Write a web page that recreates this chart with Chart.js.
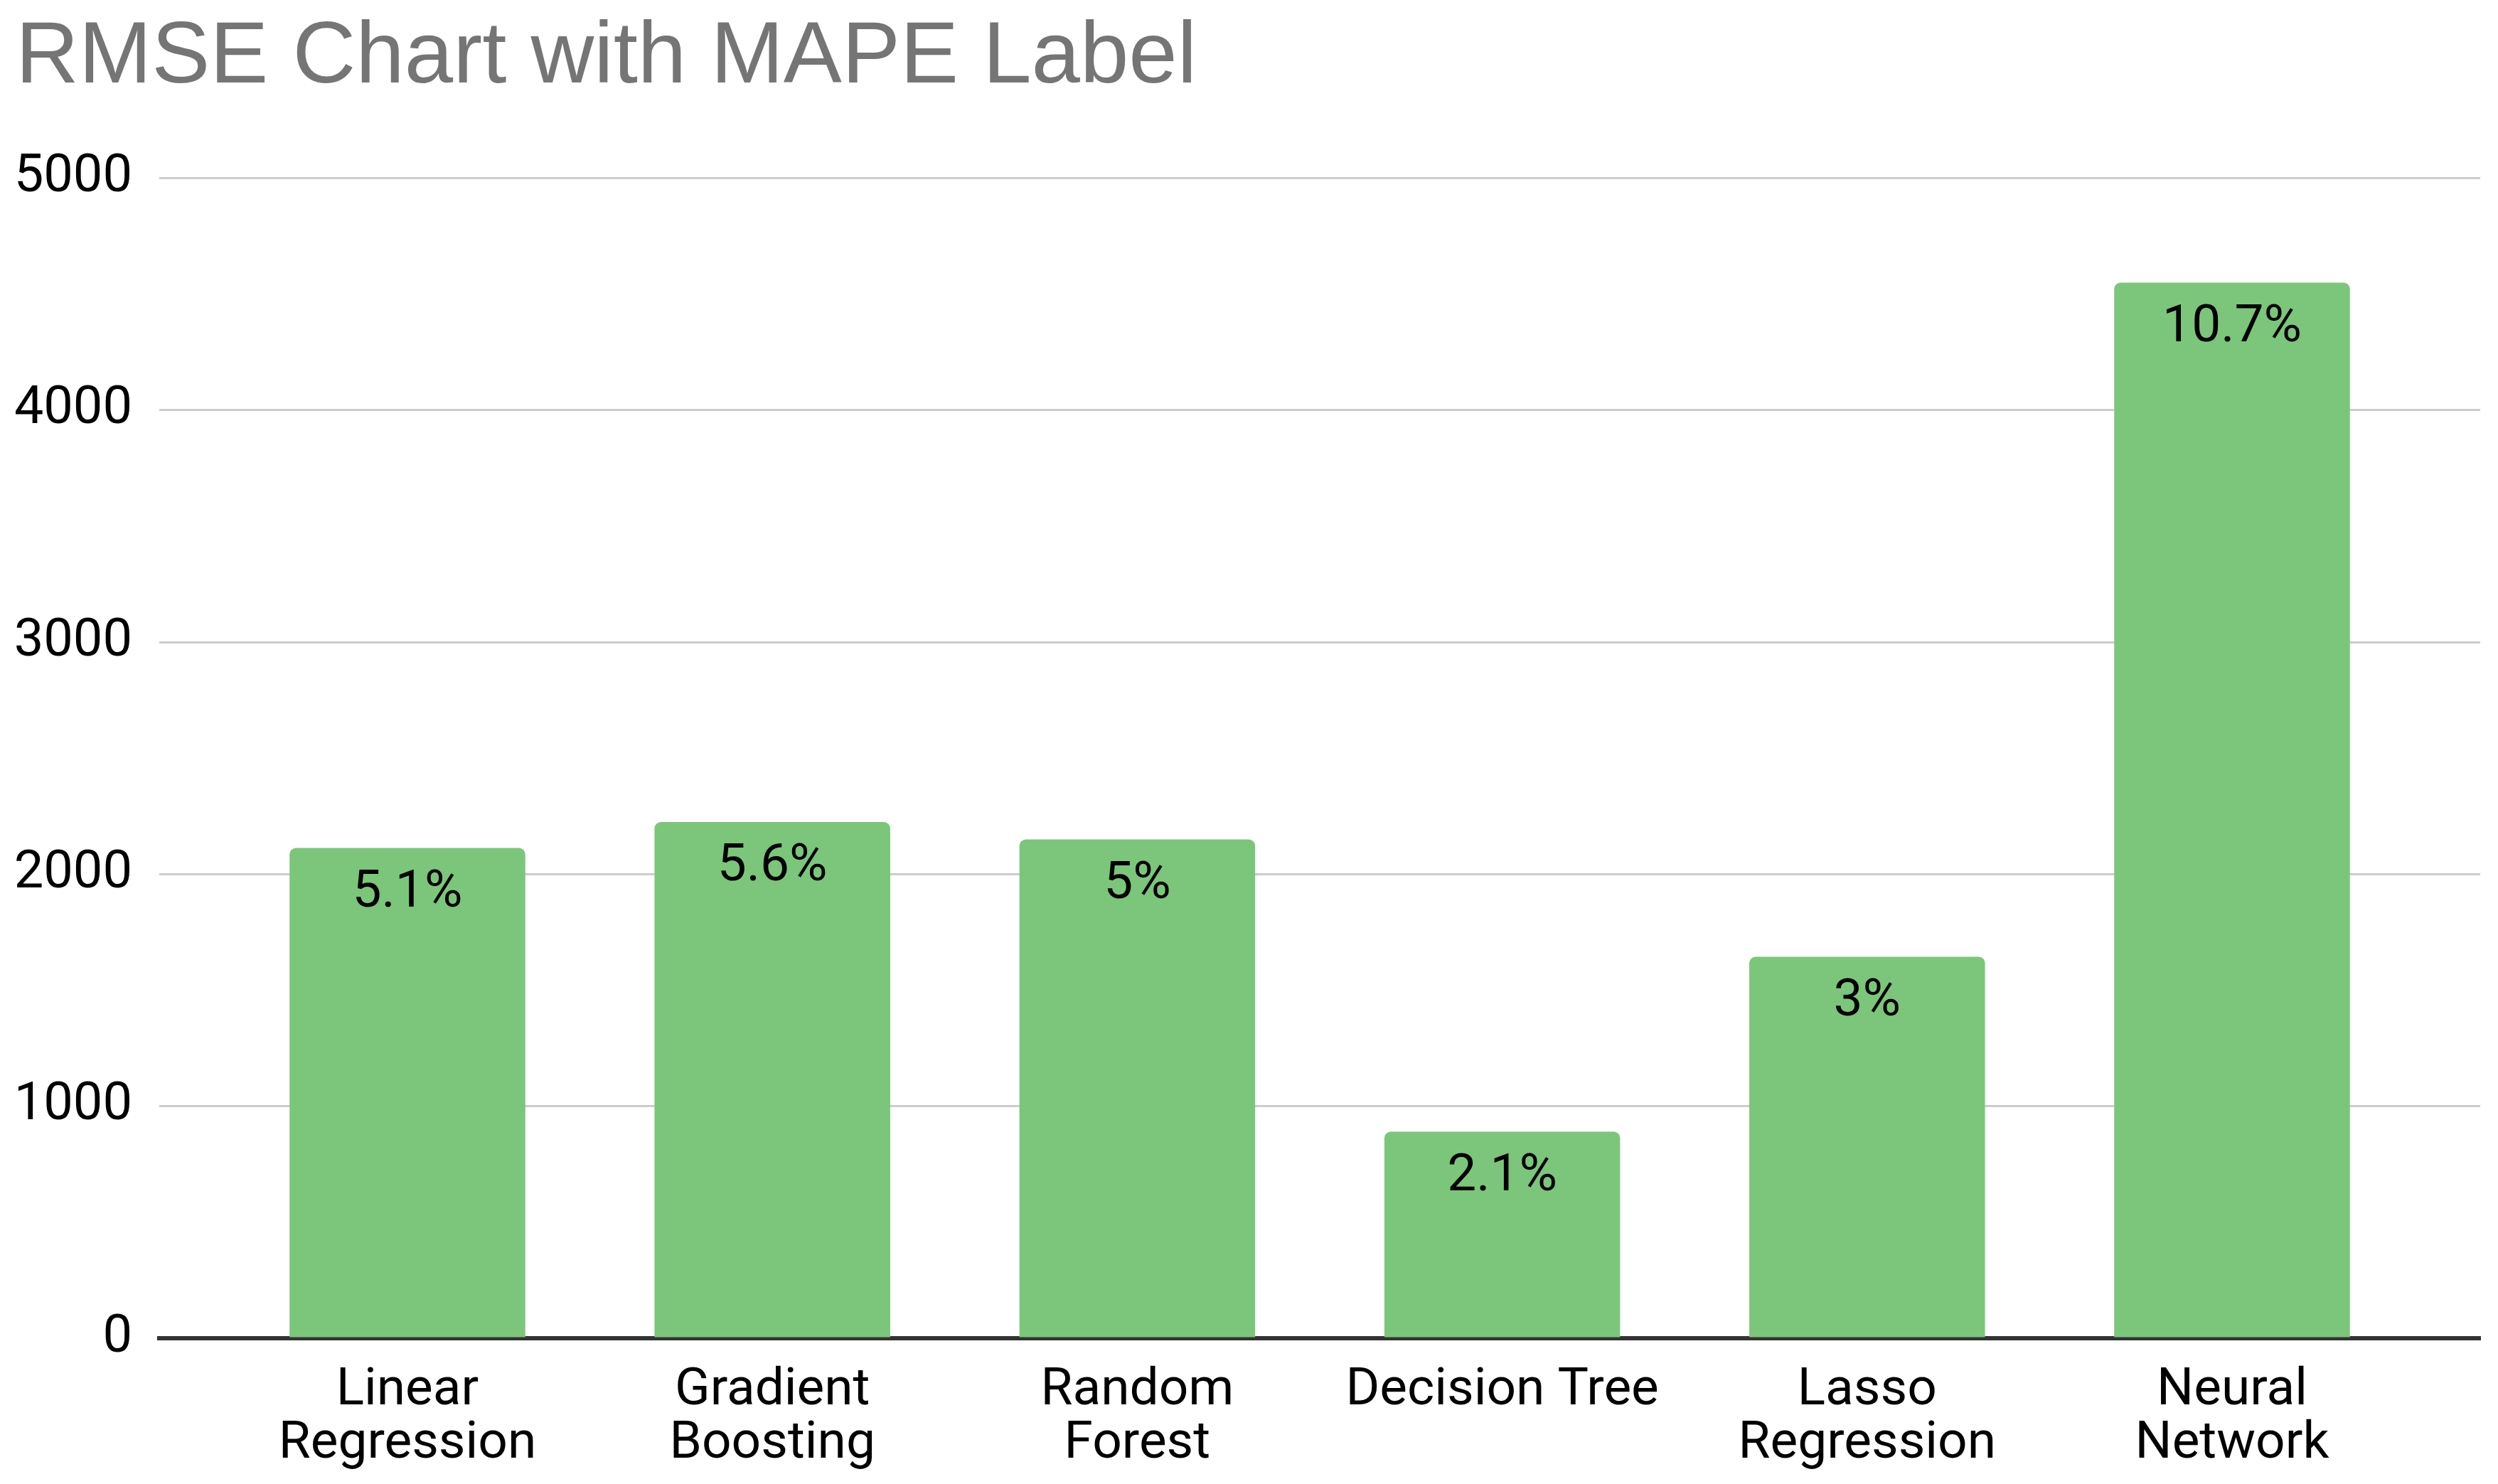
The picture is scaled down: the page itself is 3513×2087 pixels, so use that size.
<!DOCTYPE html>
<html>
<head>
<meta charset="utf-8">
<title>RMSE Chart with MAPE Label</title>
<script src="https://cdn.jsdelivr.net/npm/chart.js@4"></script>
<style>
  html, body { margin: 0; padding: 0; background: #fff; }
  #wrap { width: 100vw; height: 100vh; }
</style>
</head>
<body>
<div id="wrap"><canvas id="rmse"></canvas></div>
<script>
// modelos y valores
const modelos = [['Linear', 'Regression'], ['Gradient', 'Boosting'], ['Random', 'Forest'], 'Decision Tree', ['Lasso', 'Regression'], ['Neural', 'Network']];
const rmse = [2113, 2225, 2150, 890, 1644, 4550];
const mape = ['5.1%', '5.6%', '5%', '2.1%', '3%', '10.7%'];
const ticksY = [0, 1000, 2000, 3000, 4000, 5000];

const etiquetasMape = {
    id: 'etiquetasMape',
    afterDatasetsDraw(chart) {
        const ctx = chart.ctx;
        const meta = chart.getDatasetMeta(0);
        ctx.save();
        ctx.font = '73px Roboto';
        ctx.fillStyle = '#000';
        ctx.textAlign = 'center';
        ctx.textBaseline = 'middle';
        meta.data.forEach((bar, i) => {
            ctx.fillText(mape[i], bar.x, bar.y + 64);
        });
        ctx.restore();
    }
};

const canvas = document.getElementById('rmse');
const grafico = new Chart(canvas, {
    type: 'bar',
    data: {
        datasets: [
            {
                label: 'RMSE',
                data: rmse.map((v, i) => ({x: i, y: v})),
                backgroundColor: '#7bc67b',
                borderRadius: 9,
                barPercentage: 0.646,
                categoryPercentage: 1
            }
        ]
    },
    options: {
        responsive: true,
        maintainAspectRatio: false,
        animation: false,
        layout: { padding: { left: 22, right: 25, top: 0, bottom: 0 } },
        plugins: {
            legend: { display: false },
            tooltip: { enabled: false },
            title: {
                display: true,
                text: 'RMSE Chart with MAPE Label',
                align: 'start',
                color: '#757575',
                font: { family: '"Liberation Sans", Arial, sans-serif', size: 123, weight: 'normal', lineHeight: 1.2 },
                padding: { top: 8, bottom: 95 }
            }
        },
        scales: {
            x: {
                type: 'linear',
                offset: false,
                min: -0.68,
                max: 5.68,
                z: 1,
                grid: { display: false },
                border: { display: true, color: '#333', width: 6 },
                afterFit(scale) { scale.height = 205; },
                ticks: {
                    stepSize: 1,
                    includeBounds: false,
                    autoSkip: false,
                    maxRotation: 0,
                    padding: 30,
                    color: '#000',
                    font: { family: 'Roboto', size: 73, lineHeight: 1.02 },
                    callback: (v) => (Number.isInteger(v) && modelos[v] !== undefined) ? modelos[v] : ''
                }
            },
            y: {
                min: ticksY[0],
                max: ticksY[ticksY.length - 1],
                afterFit(scale) { scale.width = 202; },
                afterBuildTicks(scale) { scale.ticks = ticksY.map(v => ({value: v})); },
                grid: { color: '#cccccc', lineWidth: 3, drawTicks: false },
                border: { display: false },
                ticks: {
                    padding: 38,
                    color: '#000',
                    font: { family: 'Roboto', size: 74 },
                    callback: (v) => String(v)
                }
            }
        }
    },
    plugins: [etiquetasMape]
});
</script>
</body>
</html>
